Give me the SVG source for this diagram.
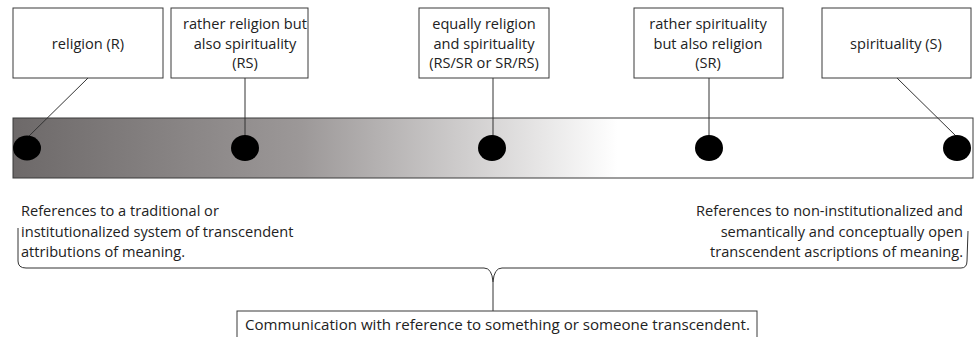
<svg xmlns="http://www.w3.org/2000/svg" width="975" height="337" viewBox="0 0 975 337">
<defs>
<linearGradient id="bar" x1="0" y1="0" x2="1" y2="0">
<stop offset="0" stop-color="#6d6969"/>
<stop offset="0.3" stop-color="#9c9898"/>
<stop offset="0.63" stop-color="#ffffff"/>
<stop offset="1" stop-color="#ffffff"/>
</linearGradient>
<style>
.box{fill:#fff;stroke:#3a3a3a;stroke-width:1}
.t{font-family:"Open Sans","Liberation Sans",sans-serif;font-size:14.6px;fill:#222}
.c{text-anchor:middle}
.r{text-anchor:end}
.ln{stroke:#333;stroke-width:1;fill:none}
.dot{fill:#000}
</style>
</defs>
<rect width="975" height="337" fill="#fff"/>
<g id="scale">
<rect x="13" y="118" width="960" height="60" fill="url(#bar)" stroke="#3a3a3a" stroke-width="1"/>
</g>
<g id="connectors">
<line class="ln" x1="88" y1="78" x2="28" y2="137"/>
<line class="ln" x1="245" y1="78" x2="245" y2="136"/>
<line class="ln" x1="493" y1="78" x2="493" y2="136"/>
<line class="ln" x1="709" y1="78" x2="709" y2="136"/>
<line class="ln" x1="897" y1="78" x2="957" y2="137"/>
<path class="ln" d="M18,228 L18,261 Q18,268 26,268 L484,268 Q492,268 493,282 L493,311 M493,282 Q494,268 502,268 L961,268 Q967,268 967,261 L968,231"/>
</g>
<g id="node-R">
<rect class="box" x="13" y="8" width="150" height="70"/>
<text class="t c" x="88" y="49">religion (R)</text>
</g>
<g id="node-RS">
<rect class="box" x="171" y="8" width="137" height="70"/>
<text class="t c" x="245" y="29">rather religion but</text>
<text class="t c" x="245" y="49">also spirituality</text>
<text class="t c" x="245" y="68">(RS)</text>
</g>
<g id="node-RSSR">
<rect class="box" x="419" y="8" width="130" height="70"/>
<text class="t c" x="484" y="29">equally religion</text>
<text class="t c" x="484" y="49">and spirituality</text>
<text class="t c" x="484" y="68">(RS/SR or SR/RS)</text>
</g>
<g id="node-SR">
<rect class="box" x="634" y="8" width="149" height="70"/>
<text class="t c" x="708" y="29">rather spirituality</text>
<text class="t c" x="708" y="49">but also religion</text>
<text class="t c" x="708" y="68">(SR)</text>
</g>
<g id="node-S">
<rect class="box" x="822" y="8" width="149" height="70"/>
<text class="t c" x="896" y="49">spirituality (S)</text>
</g>
<g id="dots">
<ellipse class="dot" cx="27" cy="148" rx="14" ry="12.5"/>
<ellipse class="dot" cx="245" cy="148" rx="14" ry="13"/>
<ellipse class="dot" cx="492" cy="148" rx="14" ry="13"/>
<ellipse class="dot" cx="709" cy="148" rx="14" ry="13"/>
<ellipse class="dot" cx="957" cy="148" rx="14" ry="13"/>
</g>
<g id="left-desc">
<text class="t" x="21" y="216">References to a traditional or</text>
<text class="t" x="21" y="237">institutionalized system of transcendent</text>
<text class="t" x="21" y="257">attributions of meaning.</text>
</g>
<g id="right-desc">
<text class="t r" x="963" y="216">References to non-institutionalized and</text>
<text class="t r" x="963" y="237">semantically and conceptually open</text>
<text class="t r" x="963" y="257">transcendent ascriptions of meaning.</text>
</g>
<g id="node-communication">
<rect class="box" x="237" y="311" width="520" height="40"/>
<text class="t" x="245" y="330" style="font-size:15.1px">Communication with reference to something or someone transcendent.</text>
</g>
</svg>
